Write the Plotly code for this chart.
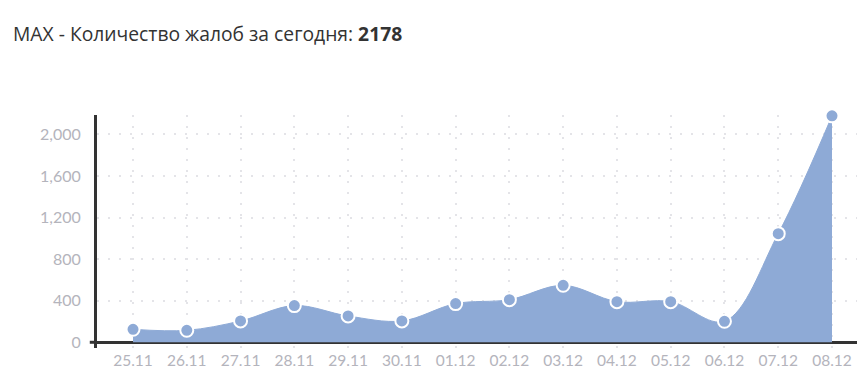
import plotly.graph_objects as go

dates = ["25.11", "26.11", "27.11", "28.11", "29.11", "30.11", "01.12",
         "02.12", "03.12", "04.12", "05.12", "06.12", "07.12", "08.12"]
complaints = [125, 115, 205, 353, 253, 205, 372, 410, 548, 391, 391, 202, 1045, 2178]
y_ticks = [0, 400, 800, 1200, 1600, 2000]
y_tick_labels = ["0", "400", "800", "1,200", "1,600", "2,000"]
title_text = "MAX - Количество жалоб за сегодня: <b>2178</b>"

blue = "#8eaad6"
axis_dark = "#333333"
tick_gray = "#b4b4bc"
grid_col = "#e4e4e8"

x_idx = list(range(len(dates)))

fig = go.Figure()
fig.add_trace(go.Scatter(
    x=x_idx, y=complaints,
    mode="lines+markers",
    line=dict(shape="spline", smoothing=1.0, color=blue, width=1),
    fill="tozeroy", fillcolor=blue,
    marker=dict(size=13, color=blue, line=dict(color="white", width=2)),
    cliponaxis=False,
    hoverinfo="x+y",
))

fig.add_shape(type="line", xref="x domain", yref="y",
              x0=-0.0095, x1=0, y0=0, y1=0,
              line=dict(color=axis_dark, width=3))

fig.update_layout(
    width=857, height=373,
    margin=dict(l=97, r=0, t=115, b=25),
    paper_bgcolor="white", plot_bgcolor="white",
    showlegend=False,
    title=dict(text=title_text, xref="container", yref="container",
               x=13 / 857, xanchor="left", y=1 - 34.5 / 373, yanchor="middle",
               font=dict(family="Open Sans", size=19.3, color="#333333")),
    font=dict(family="Lato", color=tick_gray),
)

fig.update_xaxes(
    range=[-0.67, 13.465],
    tickmode="array", tickvals=x_idx, ticktext=dates,
    tickfont=dict(family="Lato", size=15.5, color=tick_gray),
    showgrid=True, gridcolor=grid_col, griddash="2px,9px", gridwidth=1.5,
    showline=False, zeroline=False, ticks="",
    ticklabelstandoff=1,
)
fig.update_yaxes(
    range=[-55, 2186],
    tickmode="array", tickvals=y_ticks, ticktext=y_tick_labels,
    tickfont=dict(family="Lato", size=16, color=tick_gray),
    showgrid=True, gridcolor=grid_col, griddash="2px,9px", gridwidth=1.5,
    showline=True, linecolor=axis_dark, linewidth=3,
    zeroline=True, zerolinecolor=axis_dark, zerolinewidth=3,
    ticks="", ticklabelstandoff=10,
)

fig.write_html("out.html")
